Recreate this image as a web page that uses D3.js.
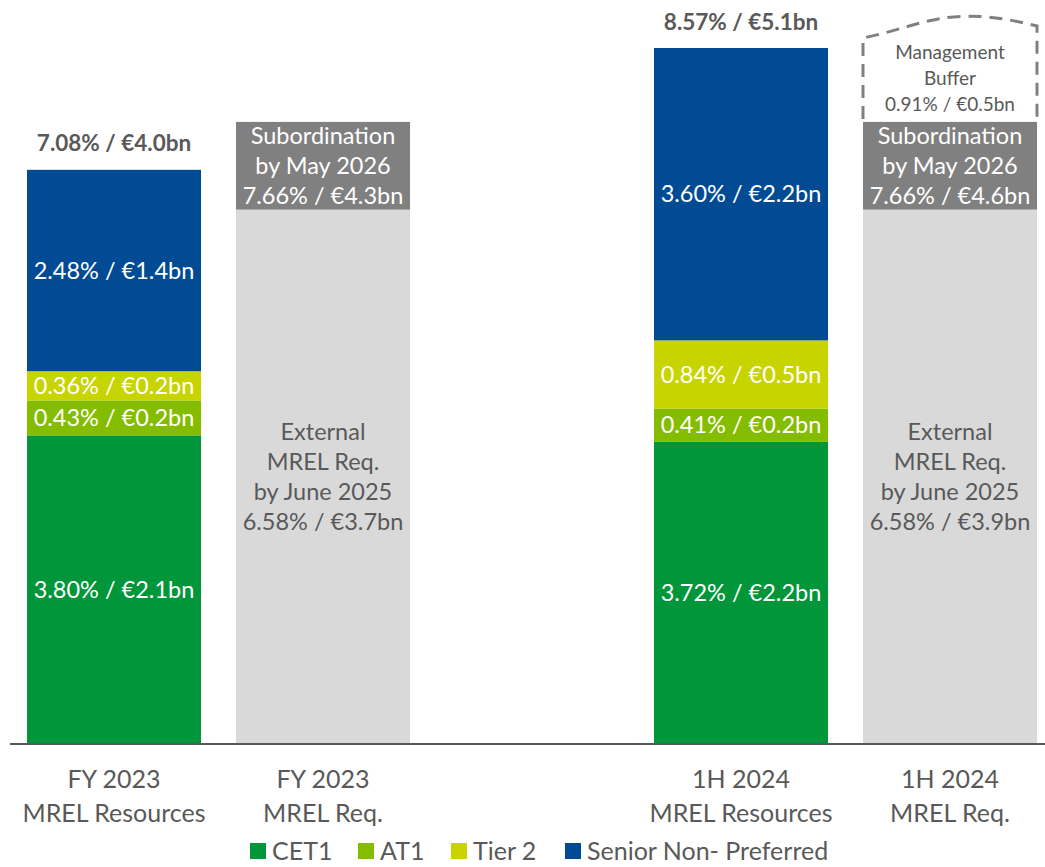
<!DOCTYPE html>
<html>
<head>
<meta charset="utf-8">
<script src="https://cdn.jsdelivr.net/npm/d3@7"></script>
<style>
  body { margin: 0; background: #fff; }
  svg text { font-family: Lato, "Noto Sans", sans-serif; }
</style>
</head>
<body>
<svg width="1045" height="867"></svg>
<script>
var width = 1045, height = 867;
var baseY = 744;

// categories (one empty slot between the two periods)
var slots = ["fyRes", "fyReq", "gap", "hRes", "hReq"];
var catLines = {
  fyRes: ["FY 2023", "MREL Resources"],
  fyReq: ["FY 2023", "MREL Req."],
  hRes: ["1H 2024", "MREL Resources"],
  hReq: ["1H 2024", "MREL Req."]
};

// resources stacks (% of RWA / EUR bn)
var seriesNames = ["CET1", "AT1", "Tier 2", "Senior Non- Preferred"];
var seriesColors = ["#009639", "#84bd00", "#c8d400", "#004b93"];
var resPct = { fyRes: [3.80, 0.43, 0.36, 2.48], hRes: [3.72, 0.41, 0.84, 3.60] };
var resBn  = { fyRes: [2.1, 0.2, 0.2, 1.4],     hRes: [2.2, 0.2, 0.5, 2.2] };
var totalPct = { fyRes: 7.08, hRes: 8.57 };
var totalBn  = { fyRes: 4.0,  hRes: 5.1 };

// requirements
var extPct = 6.58, extBn = { fyReq: 3.7, hReq: 3.9 };
var subPct = 7.66, subBn = { fyReq: 4.3, hReq: 4.6 };
var bufPct = 0.91, bufBn = 0.5;

var svg = d3.select("svg");

var x = d3.scaleBand()
  .domain(slots)
  .range([9.5, 1054.5])
  .paddingInner(0.1675)
  .paddingOuter(0.08375);

var y = d3.scaleLinear().domain([0, 8.57]).range([baseY, 48]);

var textGrey = "#595959";
var fs = 23.5;   // text inside bars
var fsAxis = 25; // category labels and legend

function fmt(p, b) { return p.toFixed(2) + "% / €" + b.toFixed(1) + "bn"; }

function multiText(g, cx, cy, lines, size, lh, color, weight) {
  var t = g.append("text")
    .attr("x", cx)
    .attr("text-anchor", "middle")
    .attr("fill", color)
    .style("font-size", size + "px")
    .style("font-weight", weight || "normal");
  var y0 = cy - (lines.length - 1) * lh / 2;
  lines.forEach(function (l, i) {
    t.append("tspan").attr("x", cx).attr("y", y0 + i * lh).attr("dy", "0.35em").text(l);
  });
  return t;
}

// resource stacks
["fyRes", "hRes"].forEach(function (k) {
  var g = svg.append("g").attr("class", "stack " + k);
  var cum = 0;
  resPct[k].forEach(function (v, i) {
    var y1 = y(cum + v), y0 = y(cum);
    g.append("rect")
      .attr("x", x(k)).attr("width", x.bandwidth())
      .attr("y", y1).attr("height", y0 - y1)
      .attr("fill", seriesColors[i]);
    multiText(g, x(k) + x.bandwidth() / 2, (y0 + y1) / 2, [fmt(v, resBn[k][i])], fs, 30, "#fff");
    cum += v;
  });
  g.append("text")
    .attr("x", x(k) + x.bandwidth() / 2)
    .attr("y", y(totalPct[k]) - 26)
    .attr("dy", "0.35em")
    .attr("text-anchor", "middle")
    .attr("fill", textGrey)
    .style("font-size", "22.5px")
    .style("font-weight", "bold")
    .text(fmt(totalPct[k], totalBn[k]));
});

// requirement bars
["fyReq", "hReq"].forEach(function (k) {
  var g = svg.append("g").attr("class", "req " + k);
  var cx = x(k) + x.bandwidth() / 2;
  g.append("rect")
    .attr("x", x(k)).attr("width", x.bandwidth())
    .attr("y", y(extPct)).attr("height", y(0) - y(extPct))
    .attr("fill", "#d9d9d9");
  multiText(g, cx, (y(0) + y(extPct)) / 2,
    ["External", "MREL Req.", "by June 2025", fmt(extPct, extBn[k])], fs, 30, textGrey);
  g.append("rect")
    .attr("x", x(k)).attr("width", x.bandwidth())
    .attr("y", y(subPct)).attr("height", y(extPct) - y(subPct))
    .attr("fill", "#808080");
  multiText(g, cx, (y(extPct) + y(subPct)) / 2,
    ["Subordination", "by May 2026", fmt(subPct, subBn[k])], fs, 30, "#fff");

  if (k === "hReq") {
    var l = x(k), r = x(k) + x.bandwidth();
    var yb = y(subPct) - 3, yt = y(subPct + bufPct);
    var p = d3.path();
    p.moveTo(l, yb);
    p.lineTo(l, yt - 10);
    p.bezierCurveTo(l + 60, yt - 22, r - 90, yt - 45, r, yt - 22);
    p.lineTo(r, yb);
    g.append("path")
      .attr("d", p.toString())
      .attr("fill", "none")
      .attr("stroke", "#808080")
      .attr("stroke-width", 3)
      .attr("stroke-dasharray", "13,8");
    multiText(g, cx, (y(subPct) + yt) / 2 - 7,
      ["Management", "Buffer", fmt(bufPct, bufBn)], 19, 26, textGrey);
  }
});

// baseline
svg.append("line")
  .attr("x1", 10).attr("x2", width)
  .attr("y1", baseY).attr("y2", baseY)
  .attr("stroke", textGrey).attr("stroke-width", 2);

// category labels
Object.keys(catLines).forEach(function (k) {
  multiText(svg, x(k) + x.bandwidth() / 2, 796, catLines[k], fsAxis, 34, textGrey);
});

// legend
var legendX = [250, 358, 451, 565];
var legend = svg.append("g").attr("class", "legend")
  .selectAll("g").data(seriesNames).enter()
  .append("g")
  .attr("transform", function (d, i) { return "translate(" + legendX[i] + ",851)"; });
legend.append("rect")
  .attr("x", 0).attr("y", -8).attr("width", 16).attr("height", 16)
  .attr("fill", function (d, i) { return seriesColors[i]; });
legend.append("text")
  .attr("x", 22).attr("dy", "0.35em")
  .attr("fill", textGrey)
  .style("font-size", fsAxis + "px")
  .text(function (d) { return d; });
</script>
</body>
</html>
